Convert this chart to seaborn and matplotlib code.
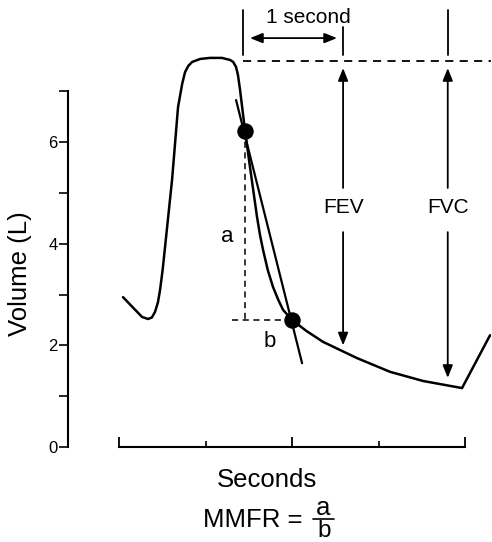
import numpy as np
import matplotlib
matplotlib.use("Agg")
import matplotlib.pyplot as plt
from matplotlib.lines import Line2D
import seaborn as sns

# spirogram trace (time in s, volume in L)
trace_t = [0.046, 0.266, 0.335, 0.38, 0.416, 0.45, 0.474, 0.505, 0.532, 0.613,
           0.682, 0.73, 0.763, 0.80, 0.844, 0.94, 1.052, 1.19, 1.283, 1.32,
           1.353, 1.375, 1.399, 1.457, 1.514, 1.595, 1.63, 1.665, 1.72, 1.780,
           1.84, 1.896, 2.0, 2.17, 2.358, 2.751, 3.133, 3.514, 3.965, 4.289]
trace_vol = [2.95, 2.56, 2.52, 2.55, 2.66, 2.85, 3.09, 3.50, 3.94, 5.26,
             6.69, 7.15, 7.38, 7.50, 7.58, 7.64, 7.66, 7.66, 7.62, 7.58,
             7.48, 7.32, 7.03, 6.22, 5.51, 4.53, 4.17, 3.88, 3.48, 3.15,
             2.90, 2.70, 2.5, 2.28, 2.07, 1.75, 1.48, 1.30, 1.16, 2.20]

# the two marked points (25% and 75% of FVC)
dot_t = [1.457, 2.0]
dot_vol = [6.22, 2.5]

# straight line through the two points
tangent_t = [1.353, 2.116]
tangent_vol = [6.83, 1.65]

peak_vol = 7.6       # dashed reference level
start_t = 1.434      # start of expiration
fev_t = 2.59         # one second later
fvc_t = 3.80
fev_vol = 2.0
fvc_vol = 1.36

y_major = [0, 2, 4, 6]
y_minor = [1, 3, 5, 7]
x_major = [0, 2, 4]
x_minor = [1, 3]

sns.set_theme(style="ticks")
plt.rcParams['font.family'] = ['Liberation Sans', 'DejaVu Sans']
plt.rcParams['text.color'] = 'black'

W, H = 492, 542
fig = plt.figure(figsize=(W / 100, H / 100), dpi=100)
ax = fig.add_axes([68 / W, 95 / H, 423 / W, 447 / H])
ax.set_xlim(-0.59, 4.30)
ax.set_ylim(0, 8.8)

lw = 1.8
sns.lineplot(x=trace_t, y=trace_vol, sort=False, estimator=None,
             color='black', lw=lw, ax=ax)
sns.lineplot(x=tangent_t, y=tangent_vol, sort=False, estimator=None,
             color='black', lw=1.6, ax=ax)

# dashed a / b construction
dash = (0, (4, 3))
ax.plot([dot_t[0], dot_t[0]], [dot_vol[0], dot_vol[1]], color='black', lw=1.1, ls=dash)
ax.plot([dot_t[0] - 0.15, dot_t[1]], [dot_vol[1], dot_vol[1]], color='black', lw=1.1, ls=dash)
sns.scatterplot(x=dot_t, y=dot_vol, color='black', s=120, edgecolor='black',
                zorder=5, ax=ax)

ax.text(1.254, 4.04, 'a', ha='center', va='baseline', fontsize=16)
ax.text(1.746, 1.97, 'b', ha='center', va='baseline', fontsize=16)

# dashed peak level and markers above the chart
ax.plot([start_t, 4.30], [peak_vol, peak_vol], color='black', lw=1.3, ls=(0, (4.5, 3.5)),
        clip_on=False)
for x, top in [(start_t, 8.6), (fev_t, 8.27), (fvc_t, 8.6)]:
    ax.plot([x, x], [7.72, top], color='black', lw=1.3, clip_on=False)

arrow = dict(arrowstyle='-|>,head_length=0.75,head_width=0.3', color='black',
             lw=1.3, shrinkA=0, shrinkB=0, mutation_scale=10)
ax.annotate('', xy=(2.52, 8.05), xytext=(1.514, 8.05),
            arrowprops=dict(arrow, arrowstyle='<|-|>,head_length=0.75,head_width=0.3'),
            annotation_clip=False)
ax.text(2.185, 8.35, '1 second', ha='center', va='baseline', fontsize=15)

for x, low, name in [(fev_t, fev_vol, 'FEV'), (fvc_t, fvc_vol, 'FVC')]:
    ax.annotate('', xy=(x, 7.46), xytext=(x, 5.10), arrowprops=arrow)
    ax.annotate('', xy=(x, low), xytext=(x, 4.23), arrowprops=arrow)
    ax.text(x, 4.61, name, ha='center', va='baseline', fontsize=15)

# axes styling
for side in ['top', 'right']:
    ax.spines[side].set_visible(False)
ax.spines['left'].set_bounds(0, 7)
ax.spines['bottom'].set_bounds(0, 4)
for side in ['left', 'bottom']:
    ax.spines[side].set_linewidth(1.5)
    ax.spines[side].set_color('black')

ax.set_yticks(y_major)
ax.set_yticks(y_minor, minor=True)
ax.set_yticklabels([str(v) for v in y_major])
ax.set_xticks(x_major)
ax.set_xticks(x_minor, minor=True)
ax.set_xticklabels([])
ax.tick_params(axis='y', which='both', direction='out', length=6.5, width=1.2,
               pad=1, labelsize=12, colors='black')
ax.tick_params(axis='x', which='major', direction='in', length=7.5, width=1.3, colors='black')
ax.tick_params(axis='x', which='minor', direction='in', length=4.5, width=1.2, colors='black')
ax.set_xlabel('')
ax.set_ylabel('')
ax.patch.set_alpha(0)

fs = 18.5
fig.text(27 / W, 1 - 274 / H, 'Volume (L)', rotation=90, rotation_mode='anchor',
         ha='center', va='baseline', fontsize=fs)
fig.text(267 / W, 1 - 487 / H, 'Seconds', ha='center', va='baseline', fontsize=fs)
fig.text(203 / W, 1 - 527 / H, 'MMFR =', ha='left', va='baseline', fontsize=fs)
fig.text(323 / W, 1 - 515 / H, 'a', ha='center', va='baseline', fontsize=fs)
fig.text(324 / W, 1 - 537 / H, 'b', ha='center', va='baseline', fontsize=17.5)
fig.add_artist(Line2D([313 / W, 334 / W], [1 - 519 / H, 1 - 519 / H],
                      color='black', lw=1.2, transform=fig.transFigure))

fig.savefig('out.png', dpi=100)
